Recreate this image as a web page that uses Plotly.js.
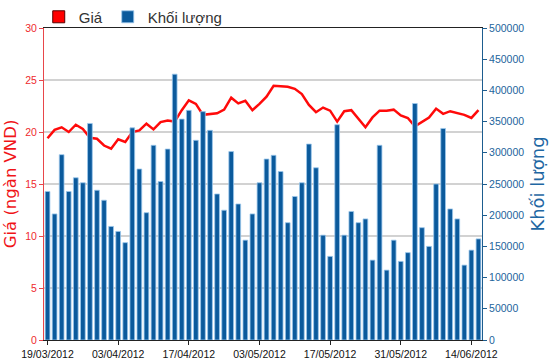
<!DOCTYPE html>
<html>
<head>
<meta charset="utf-8">
<script src="https://cdn.plot.ly/plotly-3.0.1.min.js"></script>
<style>html,body{margin:0;padding:0;background:#fff;}#chart{width:550px;height:364px;}</style>
</head>
<body>
<div id="chart"></div>
<script>
// Trading days (categories)
var dates = [
  "19/03/2012","20/03/2012","21/03/2012","22/03/2012","23/03/2012",
  "26/03/2012","27/03/2012","28/03/2012","29/03/2012","30/03/2012",
  "03/04/2012","04/04/2012","05/04/2012","06/04/2012","09/04/2012",
  "10/04/2012","11/04/2012","12/04/2012","13/04/2012","16/04/2012",
  "17/04/2012","18/04/2012","19/04/2012","20/04/2012","23/04/2012",
  "24/04/2012","25/04/2012","26/04/2012","27/04/2012","02/05/2012",
  "03/05/2012","04/05/2012","07/05/2012","08/05/2012","09/05/2012",
  "10/05/2012","11/05/2012","14/05/2012","15/05/2012","16/05/2012",
  "17/05/2012","18/05/2012","21/05/2012","22/05/2012","23/05/2012",
  "24/05/2012","25/05/2012","28/05/2012","29/05/2012","30/05/2012",
  "31/05/2012","01/06/2012","04/06/2012","05/06/2012","06/06/2012",
  "07/06/2012","08/06/2012","11/06/2012","12/06/2012","13/06/2012",
  "14/06/2012","15/06/2012"
];

// Price (ngàn VND)
var price = [
  19.4, 20.2, 20.45, 20.0, 20.7, 20.3, 19.45, 19.35, 18.7, 18.4,
  19.3, 19.05, 20.0, 20.15, 20.8, 20.25, 20.95, 21.1, 21.0, 22.1,
  23.05, 22.7, 21.65, 21.75, 21.8, 22.15, 23.3, 22.75, 23.0, 22.1,
  22.7, 23.4, 24.45, 24.4, 24.35, 24.15, 23.65, 22.6, 21.9, 22.35,
  22.05, 21.0, 22.0, 22.1, 21.25, 20.45, 21.4, 22.05, 22.05, 22.15,
  21.6, 21.35, 20.55, 20.95, 21.4, 22.25, 21.75, 22.0, 21.8, 21.65,
  21.35, 22.1
];

// Volume (Khối lượng)
var volume = [
  238000, 202000, 297000, 238000, 260000, 252000, 347000, 240000, 224000, 182000,
  174000, 156000, 340000, 274000, 204000, 312000, 254000, 306000, 426000, 354000,
  368000, 320000, 366000, 336000, 234000, 208000, 302000, 218000, 160000, 202000,
  252000, 290000, 296000, 270000, 188000, 230000, 252000, 314000, 276000, 168000,
  134000, 345000, 168000, 206000, 188000, 194000, 128000, 312000, 112000, 160000,
  126000, 140000, 379000, 180000, 150000, 250000, 339000, 210000, 194000, 120000,
  144000, 162000
];

// Tick labels shown on the x axis
var tickLabels = ["19/03/2012","03/04/2012","17/04/2012","03/05/2012","17/05/2012","31/05/2012","14/06/2012"];

var RED = "#f01418";
var BLUE = "#0b5a9c";
var AXBLUE = "#1d5d8f";

var traces = [
  {
    type: "bar", name: "Khối lượng", x: dates, y: volume, yaxis: "y2",
    marker: {color: BLUE, line: {color: "#9cc8ec", width: 0.8}},
    legendrank: 2, hoverinfo: "x+y"
  },
  {
    type: "scatter", mode: "lines", name: "Giá", x: dates, y: price, yaxis: "y",
    line: {color: "#ff0a0a", width: 2.5, shape: "linear"},
    showlegend: false
  },
  {
    // legend swatch only (square symbol for "Giá"); holds no visible value
    type: "bar", name: "Giá", x: [dates[0]], y: [null], yaxis: "y2",
    marker: {color: "#ff0000", line: {color: "#550000", width: 1}},
    legendrank: 1, hoverinfo: "skip"
  }
];

var layout = {
  width: 550, height: 364,
  margin: {l: 44, r: 68, t: 28, b: 24, pad: 0, autoexpand: false},
  paper_bgcolor: "#fff", plot_bgcolor: "#fff",
  barmode: "overlay",
  bargap: 0.33,
  font: {family: "Liberation Sans, Arial, sans-serif", size: 10.5, color: "#111"},
  showlegend: true,
  legend: {
    orientation: "h", x: -0.012, xanchor: "left", y: 1.088, yanchor: "top",
    font: {family: "Liberation Sans, Arial, sans-serif", size: 15, color: "#333"},
    bgcolor: "rgba(0,0,0,0)", traceorder: "normal", itemwidth: 30
  },
  xaxis: {
    type: "category",
    range: [-0.5, dates.length - 0.5],
    tickmode: "array", tickvals: tickLabels, ticktext: tickLabels,
    tickangle: 0,
    showline: true, linecolor: "#222", linewidth: 1, mirror: true,
    ticks: "outside", ticklen: 4, tickcolor: "#222",
    showgrid: false, zeroline: false,
    tickfont: {size: 10.5, color: "#111"}
  },
  yaxis: {
    range: [0, 30], dtick: 5, tick0: 0,
    showline: true, linecolor: "#e8464a", linewidth: 1,
    ticks: "outside", ticklen: 4, tickcolor: "#e8464a",
    tickfont: {size: 10.5, color: "#ee2a2e"},
    showgrid: true, gridcolor: "#d2d2d2", gridwidth: 1.5,
    zeroline: false,
    title: {text: "Giá (ngàn VND)", font: {family: "DejaVu Sans, sans-serif", size: 16.5, color: RED}, standoff: 4}
  },
  yaxis2: {
    overlaying: "y", side: "right",
    range: [0, 500000], dtick: 50000, tick0: 0, tickformat: "d",
    showline: true, linecolor: AXBLUE, linewidth: 1,
    ticks: "outside", ticklen: 4, tickcolor: AXBLUE,
    tickfont: {size: 10.5, color: "#22649c"},
    showgrid: false, zeroline: false,
    title: {text: "Khối lượng", font: {family: "DejaVu Sans, sans-serif", size: 18, color: "#1f67a3"}, standoff: 8}
  }
};

Plotly.newPlot("chart", traces, layout, {displayModeBar: false, staticPlot: true});
</script>
</body>
</html>
